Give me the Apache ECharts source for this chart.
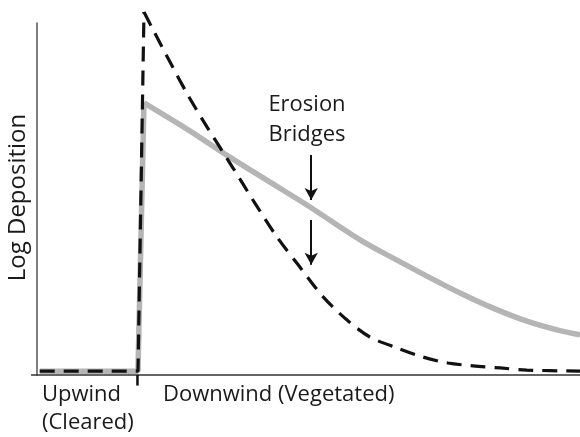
<!DOCTYPE html>
<html><head><meta charset="utf-8">
<script src="https://cdn.jsdelivr.net/npm/echarts@6/dist/echarts.min.js"></script>
<style>html,body{margin:0;padding:0;background:#fff}#c{width:580px;height:437px}</style>
</head><body><div id="c"></div>
<script>
// x: distance (0 = left axis, boundary ~18.6), y: log deposition (0..100)
const boundaryX = 18.5;
const clearedRise = [[0.5,1.1],[18.6,1.1],[19.7,103.1]];
const clearedDecay = [[19.7,103.1],[21.2,98.6],[24.5,88.9],[27.8,79.5],[31.3,70.5],[36.1,58.8],[40.1,48.9],[44.2,39.2],[48.1,31.3],[52.7,22.2],[57.1,15.6],[61.3,10.8],[66.3,7.7],[71.1,5.1],[75.7,3.4],[80.3,2.6],[85.3,2.0],[90.2,1.4],[100,1.1]];
const vegRise = [[0.5,1.1],[18.6,1.1],[19.7,77.3]];
const vegDecay = [[19.7,77.3],[28.2,69.3],[35.5,61.9],[42.9,54.8],[49.7,48.3],[59.5,38.4],[65.6,33.2],[71.8,28.1],[77.9,23.3],[84.0,19.0],[90.2,15.3],[96.3,12.6],[100,11.4]];
const arrowX = 50.5;
const arrow1 = [62.5, 49.7];
const arrow2 = [44.0, 31.3];
const annotation = ['Erosion', 'Bridges'];
const yTitle = 'Log Deposition';
const xLabels = ['Upwind', '(Cleared)', 'Downwind (Vegetated)'];

const chart = echarts.init(document.getElementById('c'));
const FAM = '"Open Sans", sans-serif';
const TXT = '#1a1a1a';
const gray = {color:'#b5b5b5', width:5.5};
const dash = {color:'#111', width:3.2, type:[15,9]};
function t(text, x, y, align, rot, size){
  return {type:'text', x:x, y:y, rotation:rot||0, style:{text:text, font:(size||22)+'px '+FAM, fill:TXT, textAlign:align||'left', textVerticalAlign:'middle'}};
}
chart.setOption({
  animation:false,
  grid:{left:31.57, right:0, top:23, bottom:62},
  xAxis:{type:'value', min:-1, max:100, axisLine:{lineStyle:{color:'#333', width:1.5}}, axisTick:{show:false}, axisLabel:{show:false}, splitLine:{show:false}},
  yAxis:{type:'value', min:0, max:100, axisLine:{show:true, onZero:true, lineStyle:{color:'#555', width:1.5}}, axisTick:{show:false}, axisLabel:{show:false}, splitLine:{show:false}},
  graphic:[
    t(yTitle, 18, 197.5, 'center', Math.PI/2, 24),
    t(xLabels[0], 42, 395),
    t(xLabels[1], 42, 423),
    t(xLabels[2], 163, 395),
    t(annotation[0], 307, 104.5, 'center'),
    t(annotation[1], 307, 134.5, 'center')
  ],
  series:[
    {type:'line', data:vegRise, symbol:'none', lineStyle:gray, z:2},
    {type:'line', data:vegDecay, symbol:'none', smooth:0.3, lineStyle:gray, z:2},
    {type:'line', data:clearedRise, symbol:'none', lineStyle:dash, clip:false, z:3},
    {type:'line', data:clearedDecay, symbol:'none', smooth:0.3, lineStyle:dash, clip:false, z:3},
    {type:'line', data:[[boundaryX,0],[boundaryX,-3]], symbol:'none', lineStyle:{color:'#111', width:2.5}, clip:false, z:4},
    {type:'line', data:[], symbol:'none',
      markLine:{silent:true, symbol:['none','arrow'], symbolSize:[10,12], label:{show:false},
        lineStyle:{color:'#111', width:2, type:'solid'},
        data:[
          [{coord:[arrowX, arrow1[0]]},{coord:[arrowX, arrow1[1]]}],
          [{coord:[arrowX, arrow2[0]]},{coord:[arrowX, arrow2[1]]}]
        ]}}
  ]
});
</script></body></html>
